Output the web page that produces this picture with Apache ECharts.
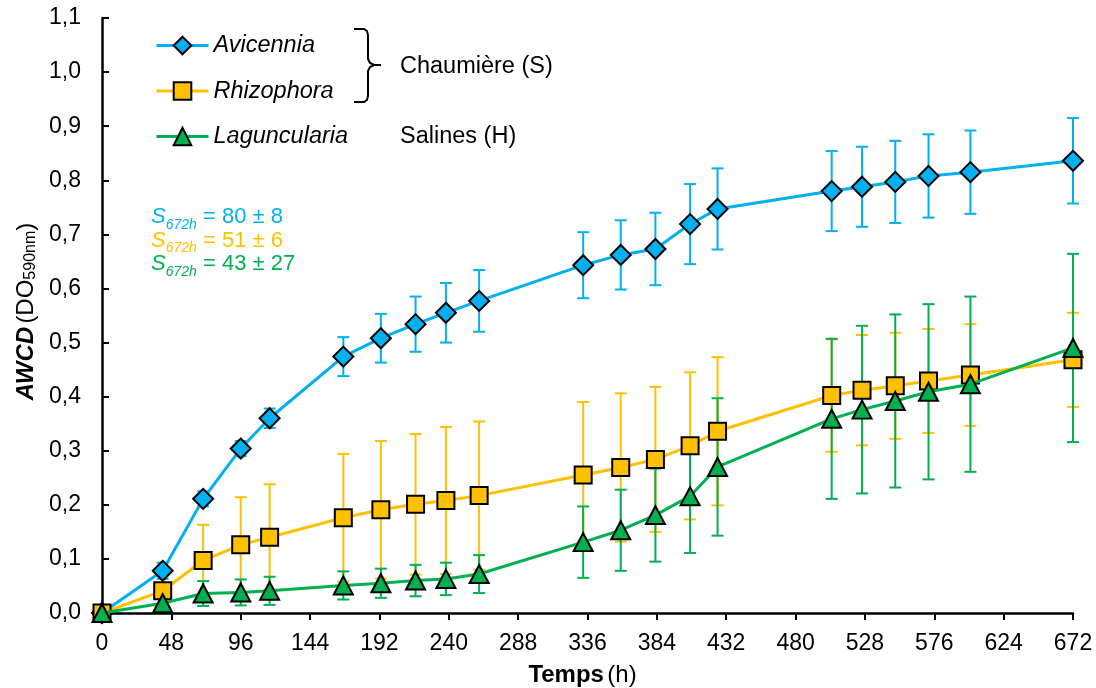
<!DOCTYPE html>
<html>
<head>
<meta charset="utf-8">
<script src="https://cdn.jsdelivr.net/npm/echarts@6/dist/echarts.min.js"></script>
<style>
  html, body { margin: 0; padding: 0; background: #fff; }
  #chart { width: 1096px; height: 688px; }
</style>
</head>
<body>
<div id="chart"></div>
<script>
// sampling times (h)
var times = [0, 42, 70, 96, 116, 167, 193, 217, 238, 261, 333, 359, 383, 407, 426, 505, 526, 549, 572, 601, 672];

// AWCD means and standard deviations
var aviMean = [0, 0.078, 0.211, 0.304, 0.360, 0.474, 0.508, 0.534, 0.555, 0.577, 0.643, 0.662, 0.673, 0.719, 0.747, 0.780, 0.788, 0.797, 0.808, 0.815, 0.836];
var aviSd = [0, 0.015, 0.014, 0.014, 0.018, 0.036, 0.045, 0.051, 0.055, 0.057, 0.061, 0.064, 0.067, 0.074, 0.075, 0.074, 0.074, 0.076, 0.077, 0.077, 0.079];

var rhiMean = [0, 0.041, 0.097, 0.126, 0.140, 0.176, 0.191, 0.201, 0.208, 0.217, 0.255, 0.269, 0.284, 0.309, 0.336, 0.402, 0.412, 0.420, 0.429, 0.440, 0.468];
var rhiSd = [0, 0.010, 0.066, 0.088, 0.098, 0.118, 0.127, 0.130, 0.136, 0.137, 0.135, 0.137, 0.134, 0.136, 0.137, 0.104, 0.102, 0.098, 0.096, 0.094, 0.087];

var lagMean = [0, 0.018, 0.036, 0.038, 0.041, 0.051, 0.055, 0.060, 0.063, 0.072, 0.131, 0.153, 0.181, 0.216, 0.270, 0.359, 0.376, 0.392, 0.409, 0.423, 0.490];
var lagSd = [0, 0.010, 0.023, 0.024, 0.026, 0.026, 0.027, 0.029, 0.030, 0.035, 0.066, 0.075, 0.086, 0.105, 0.127, 0.148, 0.155, 0.160, 0.162, 0.162, 0.174];

var names = ['Avicennia', 'Rhizophora', 'Laguncularia'];
var colors = ['#00B0F0', '#FFC000', '#00B050'];
var symbols = ['diamond', 'rect', 'triangle'];
var symbolSizes = [[20, 20], [17, 17], [19, 18]];

var yTicks = [0, 0.1, 0.2, 0.3, 0.4, 0.5, 0.6, 0.7, 0.8, 0.9, 1.0, 1.1];
var xTicks = [0, 48, 96, 144, 192, 240, 288, 336, 384, 432, 480, 528, 576, 624, 672];

var sLabels = ['80 \u00b1 8', '51 \u00b1 6', '43 \u00b1 27'];

var FONT = 'Arial, "Liberation Sans", sans-serif';

function pairs(mean) {
    return times.map(function (t, i) { return [t, mean[i]]; });
}

function errRanges(mean, sd) {
    return times.map(function (t, i) { return [t, mean[i] - sd[i], mean[i] + sd[i]]; });
}

function errSeries(idx, mean, sd) {
    var color = colors[idx];
    return {
        type: 'custom',
        name: names[idx] + ' err',
        silent: true,
        z: 1,
        encode: { x: 0, y: [1, 2] },
        data: errRanges(mean, sd),
        renderItem: function (params, api) {
            var x = api.value(0);
            var lo = api.coord([x, api.value(1)]);
            var hi = api.coord([x, api.value(2)]);
            var w = 6;
            var st = { stroke: color, lineWidth: 2 };
            return {
                type: 'group',
                children: [
                    { type: 'line', shape: { x1: lo[0], y1: lo[1], x2: hi[0], y2: hi[1] }, style: st },
                    { type: 'line', shape: { x1: lo[0] - w, y1: lo[1], x2: lo[0] + w, y2: lo[1] }, style: st },
                    { type: 'line', shape: { x1: hi[0] - w, y1: hi[1], x2: hi[0] + w, y2: hi[1] }, style: st }
                ]
            };
        }
    };
}

function lineSeries(idx, mean) {
    return {
        type: 'line',
        name: names[idx],
        data: pairs(mean),
        z: 3 + idx,
        symbol: symbols[idx],
        symbolSize: symbolSizes[idx],
        showAllSymbol: true,
        lineStyle: { color: colors[idx], width: 3 },
        itemStyle: { color: colors[idx], borderColor: '#000', borderWidth: 2, opacity: 1 },
        emphasis: { disabled: true }
    };
}

function sText(idx, top) {
    return {
        type: 'text',
        left: 151,
        top: top,
        style: {
            text: '{s|S}{sub|672h}{t| = ' + sLabels[idx] + '}',
            rich: {
                s: { fontFamily: FONT, fontSize: 22, fontStyle: 'italic', fill: colors[idx], lineHeight: 26, verticalAlign: 'top' },
                sub: { fontFamily: FONT, fontSize: 14, fontStyle: 'italic', fill: colors[idx], lineHeight: 15, verticalAlign: 'bottom' },
                t: { fontFamily: FONT, fontSize: 22, fill: colors[idx], lineHeight: 26, verticalAlign: 'top' }
            }
        }
    };
}

var chart = echarts.init(document.getElementById('chart'));

var option = {
    animation: false,
    backgroundColor: '#fff',
    grid: { left: 102, right: 23, top: 18, bottom: 75, containLabel: false, outerBoundsMode: 'none' },
    legend: {
        data: names,
        orient: 'vertical',
        left: 150,
        top: 29,
        itemWidth: 52,
        itemHeight: 22,
        itemGap: 22.5,
        selectedMode: false,
        lineStyle: { width: 3 },
        textStyle: { fontFamily: FONT, fontSize: 23.5, fontStyle: 'italic', color: '#000' }
    },
    xAxis: {
        type: 'value',
        min: xTicks[0],
        max: xTicks[xTicks.length - 1],
        interval: xTicks[1] - xTicks[0],
        name: '{b|Temps} {n|(h)}',
        nameLocation: 'middle',
        nameGap: 50,
        nameTextStyle: {
            padding: [0, 10, 0, 0],
            rich: {
                b: { fontFamily: FONT, fontSize: 24, fontWeight: 'bold', color: '#000' },
                n: { fontFamily: FONT, fontSize: 24, color: '#000' }
            }
        },
        axisLine: { lineStyle: { color: '#000', width: 2.5 } },
        axisTick: { inside: false, length: 7, lineStyle: { color: '#000', width: 2 } },
        axisLabel: { margin: 19, fontFamily: FONT, fontSize: 23, color: '#000' },
        splitLine: { show: false }
    },
    yAxis: {
        type: 'value',
        min: yTicks[0],
        max: yTicks[yTicks.length - 1],
        interval: 0.1,
        name: '{b|AWCD} {n|(DO}{sub|590nm}{n|)}',
        nameLocation: 'middle',
        nameRotate: 90,
        nameGap: 62,
        nameTextStyle: {
            padding: [0, 0, 0, 8],
            rich: {
                b: { fontFamily: FONT, fontSize: 24, fontWeight: 'bold', fontStyle: 'italic', color: '#000', lineHeight: 28, verticalAlign: 'bottom' },
                n: { fontFamily: FONT, fontSize: 24, color: '#000', lineHeight: 28, verticalAlign: 'bottom' },
                sub: { fontFamily: FONT, fontSize: 16, color: '#000', lineHeight: 17, verticalAlign: 'bottom' }
            }
        },
        axisLine: { show: true, lineStyle: { color: '#000', width: 2.5 } },
        axisTick: { show: true, inside: true, length: 7, lineStyle: { color: '#000', width: 2 } },
        axisLabel: {
            margin: 21,
            fontFamily: FONT,
            fontSize: 23,
            color: '#000',
            formatter: function (v) { return v.toFixed(1).replace('.', ','); }
        },
        splitLine: { show: false }
    },
    graphic: [
        {
            type: 'polyline',
            shape: { points: [[354, 29], [364, 29], [367, 31], [368, 35], [368, 59], [370, 63], [374, 65], [381, 65], [374, 65], [370, 67], [368, 71], [368, 96], [367, 100], [364, 102], [354, 102]] },
            style: { stroke: '#000', lineWidth: 2, fill: null }
        },
        {
            type: 'text', left: 400, top: 55,
            style: { text: 'Chaumi\u00e8re (S)', fontFamily: FONT, fontSize: 23.5, fill: '#000' }
        },
        {
            type: 'text', left: 400, top: 125,
            style: { text: 'Salines (H)', fontFamily: FONT, fontSize: 23.5, fill: '#000' }
        },
        sText(0, 206),
        sText(1, 229.5),
        sText(2, 253)
    ],
    series: [
        errSeries(0, aviMean, aviSd),
        errSeries(1, rhiMean, rhiSd),
        errSeries(2, lagMean, lagSd),
        lineSeries(0, aviMean),
        lineSeries(1, rhiMean),
        lineSeries(2, lagMean)
    ]
};

chart.setOption(option);
</script>
</body>
</html>
